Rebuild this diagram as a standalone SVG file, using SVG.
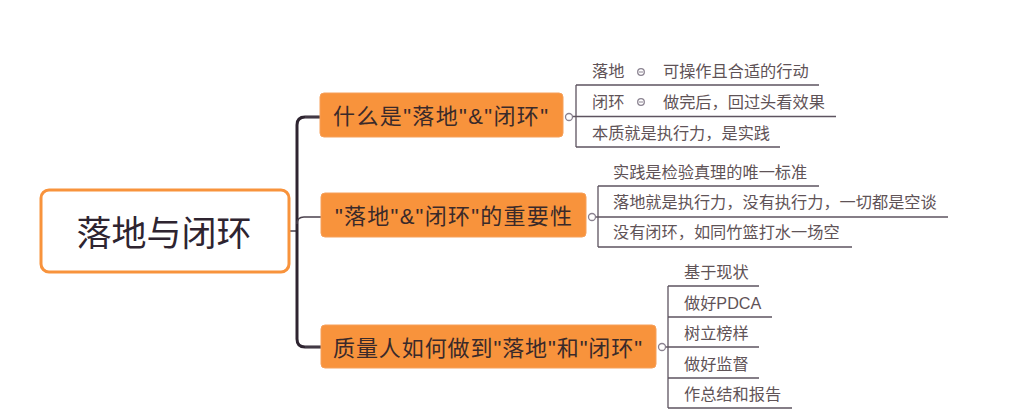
<svg xmlns="http://www.w3.org/2000/svg" width="1018" height="417" viewBox="0 0 1018 417">
<style>
.trunk{fill:none;stroke:#2e2430;stroke-width:3;stroke-linecap:round}
.thin{fill:none;stroke:#4a404c;stroke-width:1.5}
.leafline{fill:none;stroke:#5e5460;stroke-width:1.3}
.node{fill:#F8933C;stroke:#F6A05A;stroke-width:1}
.ntext{font-family:"Liberation Sans","Noto Sans CJK SC",sans-serif;font-size:22px;fill:#3a2a2a}
.leaf{font-family:"Liberation Sans","Noto Sans CJK SC",sans-serif;font-size:16.2px;fill:#5f5357}
.col{fill:#fff;stroke:#8a8290;stroke-width:1.3}
</style>
<g id="connectors">
<line class="thin" x1="290" y1="231" x2="297" y2="231"/>
<path class="trunk" d="M320,117 H305 Q297,117 297,125 V339 Q297,347 305,347 H321"/>
<path class="thin" d="M297,224 Q297,217 304,217 H321"/>
<path class="thin" d="M305,117 H320"/>
<path class="thin" d="M305,347 H321"/>
<path class="leafline" d="M576,85 V147 M573,116.5 H836 M576,85 H819 M576,147 H780"/>
<path class="leafline" d="M598,186 V247 M595,217 H948 M598,186 H819 M598,247 H852"/>
<path class="leafline" d="M668,286 V408 M666,347 H759 M668,286 H759 M668,317 H772 M668,378 H759 M668,408 H792"/>
</g>
<g id="root">
<rect x="41" y="190" width="248" height="82" rx="8" fill="#fff" stroke="#F8933C" stroke-width="3"/>
<text x="164" y="246" text-anchor="middle" font-family="'Noto Sans CJK SC',sans-serif" font-size="35" fill="#2e2430">落地与闭环</text>
</g>
<g id="n1">
<rect class="node" x="320" y="93" width="243" height="44" rx="4"/>
<text class="ntext" x="333" y="124" textLength="215" lengthAdjust="spacing">什么是"落地"&amp;"闭环"</text>
<circle class="col" cx="569" cy="117" r="3.5"/>
</g>
<g id="n1a">
<text class="leaf" x="592" y="77">落地</text>
<circle class="col" cx="641" cy="72" r="3.3"/><line x1="639" y1="72" x2="643" y2="72" stroke="#8a8290" stroke-width="1"/>
<text class="leaf" x="663" y="77">可操作且合适的行动</text>
</g>
<g id="n1b">
<text class="leaf" x="592" y="108">闭环</text>
<circle class="col" cx="641" cy="102" r="3.3"/><line x1="639" y1="102" x2="643" y2="102" stroke="#8a8290" stroke-width="1"/>
<text class="leaf" x="663" y="108">做完后，回过头看效果</text>
</g>
<g id="n1c"><text class="leaf" x="592" y="139">本质就是执行力，是实践</text></g>
<g id="n2">
<rect class="node" x="321" y="193" width="265" height="44" rx="4"/>
<text class="ntext" x="335" y="224" textLength="237" lengthAdjust="spacing">"落地"&amp;"闭环"的重要性</text>
<circle class="col" cx="592" cy="217" r="3.5"/>
</g>
<g id="n2a"><text class="leaf" x="613" y="178">实践是检验真理的唯一标准</text></g>
<g id="n2b"><text class="leaf" x="613" y="208">落地就是执行力，没有执行力，一切都是空谈</text></g>
<g id="n2c"><text class="leaf" x="613" y="238">没有闭环，如同竹篮打水一场空</text></g>
<g id="n3">
<rect class="node" x="321" y="325" width="335" height="43" rx="4"/>
<text class="ntext" x="333" y="356" textLength="309" lengthAdjust="spacing">质量人如何做到"落地"和"闭环"</text>
<circle class="col" cx="662" cy="347" r="3.5"/>
</g>
<g id="n3a"><text class="leaf" x="684" y="278">基于现状</text></g>
<g id="n3b"><text class="leaf" x="684" y="309">做好PDCA</text></g>
<g id="n3c"><text class="leaf" x="684" y="339">树立榜样</text></g>
<g id="n3d"><text class="leaf" x="684" y="370">做好监督</text></g>
<g id="n3e"><text class="leaf" x="684" y="400">作总结和报告</text></g>
</svg>
